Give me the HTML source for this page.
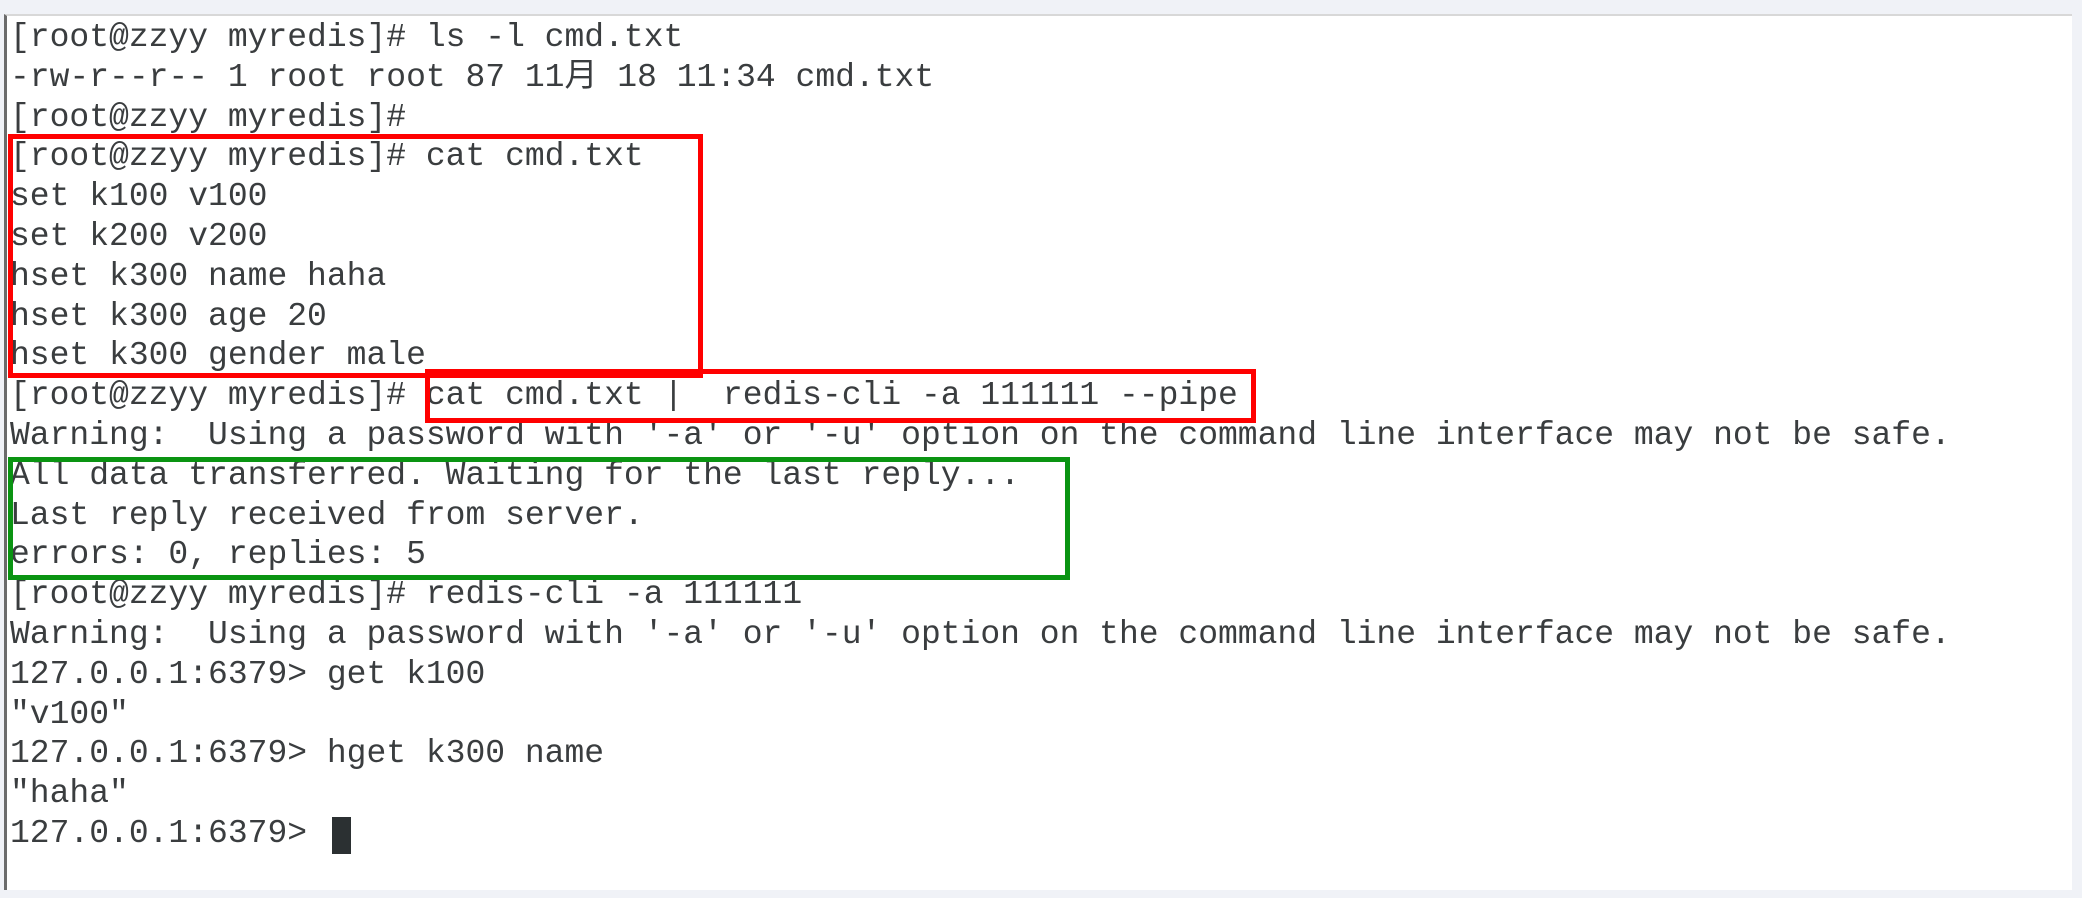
<!DOCTYPE html>
<html><head><meta charset="utf-8"><style>
html,body{margin:0;padding:0;}
body{width:2082px;height:898px;background:#f0f2f7;position:relative;overflow:hidden;}
#term{position:absolute;left:4px;top:14px;width:2068px;height:876px;background:#fff;border-left:3px solid #6b6b6b;border-top:2px solid #d8d8d8;box-sizing:border-box;}
pre{position:absolute;left:10px;top:18px;margin:0;font-family:"Liberation Mono","Noto Sans CJK SC",monospace;font-size:33px;line-height:39.8px;color:#3a3d3f;white-space:pre;}
.box{position:absolute;box-sizing:border-box;}
.r{border:5px solid #ff0000;}
.g{border:5px solid #0a9412;}
#cur{position:absolute;left:332px;top:817px;width:19px;height:37px;background:#2b3032;}
</style></head><body>
<div id="term"></div>
<pre>[root@zzyy myredis]# ls -l cmd.txt
-rw-r--r-- 1 root root 87 11月 18 11:34 cmd.txt
[root@zzyy myredis]#
[root@zzyy myredis]# cat cmd.txt
set k100 v100
set k200 v200
hset k300 name haha
hset k300 age 20
hset k300 gender male
[root@zzyy myredis]# cat cmd.txt |  redis-cli -a 111111 --pipe
Warning:  Using a password with '-a' or '-u' option on the command line interface may not be safe.
All data transferred. Waiting for the last reply...
Last reply received from server.
errors: 0, replies: 5
[root@zzyy myredis]# redis-cli -a 111111
Warning:  Using a password with '-a' or '-u' option on the command line interface may not be safe.
127.0.0.1:6379> get k100
"v100"
127.0.0.1:6379> hget k300 name
"haha"
127.0.0.1:6379> </pre>
<div id="cur"></div>
<div class="box r" style="left:8px;top:134px;width:695px;height:244px;"></div>
<div class="box r" style="left:425px;top:369px;width:831px;height:54px;"></div>
<div class="box g" style="left:8px;top:457px;width:1062px;height:123px;"></div>
</body></html>
